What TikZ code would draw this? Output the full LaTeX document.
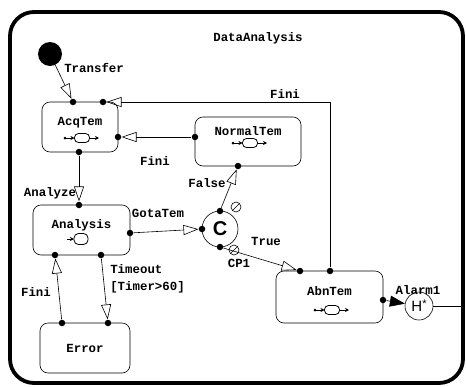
\documentclass[tikz,border=0pt]{standalone}
\usepackage{fontspec}
\usepackage{tikz}
\usetikzlibrary{arrows.meta,positioning,calc}
\newfontfamily\diafont{Liberation Mono}
\newfontfamily\circfont{Liberation Sans}

\tikzset{
  pics/actboth/.style={code={
    \draw[line width=0.8pt, rounded corners=4pt] (-7.5,-4.5) rectangle (7.5,4.5);
    \fill (-17,0) circle (1.5pt);
    \draw[line width=0.8pt, -{Stealth[length=4pt,width=4pt]}] (-17,0) -- (-7.5,0);
    \draw[line width=0.8pt, -{Stealth[length=4pt,width=4pt]}] (7.5,0) -- (17,0);}},
  pics/actin/.style={code={
    \draw[line width=0.8pt, rounded corners=4.5pt] (-7,-5.5) rectangle (7,5.5);
    \draw[line width=0.8pt, -{Stealth[length=4pt,width=4pt]}] (-14,0) -- (-7,0);}}
}

\begin{document}
\begin{tikzpicture}[x=1pt, y=-1pt, line width=0.6pt,
  font=\diafont\bfseries\fontsize{12.4}{17}\selectfont,
  box/.style={draw, rounded corners=8pt, inner sep=0pt},
  conn/.style={circle, fill, inner sep=0pt, minimum size=6.5pt},
  guard/.style={circle, draw, inner sep=0pt, minimum size=10pt,
    path picture={\draw (path picture bounding box.south west) -- (path picture bounding box.north east);}},
  trans/.style={-{Triangle[open,length=15pt,width=10pt]}},
  trfill/.style={-{Triangle[length=15pt,width=11pt]}},
  lbl/.style={inner sep=0pt}]
\useasboundingbox (0,0) rectangle (466,386);
% frame and title
\node[draw, line width=3.8pt, rounded corners=24pt, minimum width=453pt, minimum height=371pt] (frame) at (236.5,197.5) {};
\node[lbl] (title) at (258,38) {DataAnalysis};
% states
\node[circle, fill, minimum size=24pt, inner sep=0pt] (init) at (50,54) {};
\node[box, minimum width=76pt, minimum height=50pt, text depth=12pt] (acq) at (80,127) {AcqTem};
\node[box, minimum width=106pt, minimum height=49pt, text depth=21pt] (norm) at (248,141.5) {NormalTem};
\node[box, minimum width=97pt, minimum height=50pt, text depth=12pt] (ana) at (81.5,230) {Analysis};
\node[box, minimum width=90pt, minimum height=50pt] (err) at (85,348) {Error};
\node[box, minimum width=107pt, minimum height=52pt, text depth=12pt] (abn) at (329.5,297) {AbnTem};
\node[circle, draw, minimum size=36pt, inner sep=0pt, font=\circfont\bfseries\fontsize{20}{20}\selectfont] (cond) at (220,229) {C};
\node[circle, draw, minimum size=28pt, inner sep=0pt, font=\circfont\fontsize{15}{15}\selectfont] (hist) at (419,306) {H\raisebox{4pt}{\fontsize{11}{11}\selectfont*}};
\node[guard] (gtop) at (236,207) {};
\node[guard] (gbot) at (234,250) {};
% activity icons
\pic at (82,138) {actboth};
\pic at (81,239) {actin};
\pic at (250,143) {actboth};
\pic at (332,310) {actboth};
% connection points
\node[conn] (dAt1) at (73,102) {};
\node[conn] (dAt2) at (103,102) {};
\node[conn] (dAr) at (118,137) {};
\node[conn] (dAb) at (79,152) {};
\node[conn] (dNl) at (195,137) {};
\node[conn] (dNb) at (238,166) {};
\node[conn] (dYt) at (79,205) {};
\node[conn] (dYr) at (130,233) {};
\node[conn] (dYb1) at (55,255) {};
\node[conn] (dYb2) at (101,255) {};
\node[conn] (dEt1) at (62,323) {};
\node[conn] (dEt2) at (108,323) {};
\node[conn] (dCl) at (202,229) {};
\node[conn] (dCt) at (220,211) {};
\node[conn] (dCb) at (220,247) {};
\node[conn] (dBt1) at (300,271) {};
\node[conn] (dBt2) at (330,271) {};
\node[conn] (dBr) at (383,300) {};
% transitions
\draw[trans] (init) -- (dAt1);
\draw[trans] (dAb) -- (dYt);
\draw[trans] (dNl) -- (dAr);
\draw[trans] (dBt2) |- (dAt2);
\draw[trans] (dYr) -- (dCl);
\draw[trans] (dCt) -- (dNb);
\draw[trans] (dCb) -- (dBt1);
\draw[trans] (dYb2) -- (dEt2);
\draw[trans] (dEt1) -- (dYb1);
\draw[trfill] (dBr) -- (hist);
\draw (hist) -- (hist -| frame.east);
% labels
\node[lbl, anchor=west] (lTransfer) at (64,68) {Transfer};
\node[lbl] (lAnalyze) at (50,193) {Analyze};
\node[lbl] (lFini1) at (155,161) {Fini};
\node[lbl] (lFini2) at (285,94) {Fini};
\node[lbl] (lFalse) at (207,183) {False};
\node[lbl] (lGota) at (158,213) {GotaTem};
\node[lbl] (lTrue) at (266,241) {True};
\node[lbl] (lCP) at (239,263) {CP1};
\node[lbl, anchor=north west, align=left] (lTimeout) at (110,264) {Timeout\\{[Timer>60]}};
\node[lbl] (lFini3) at (36,292) {Fini};
\node[lbl] (lAlarm) at (418,290) {Alarm1};
\end{tikzpicture}
\end{document}
